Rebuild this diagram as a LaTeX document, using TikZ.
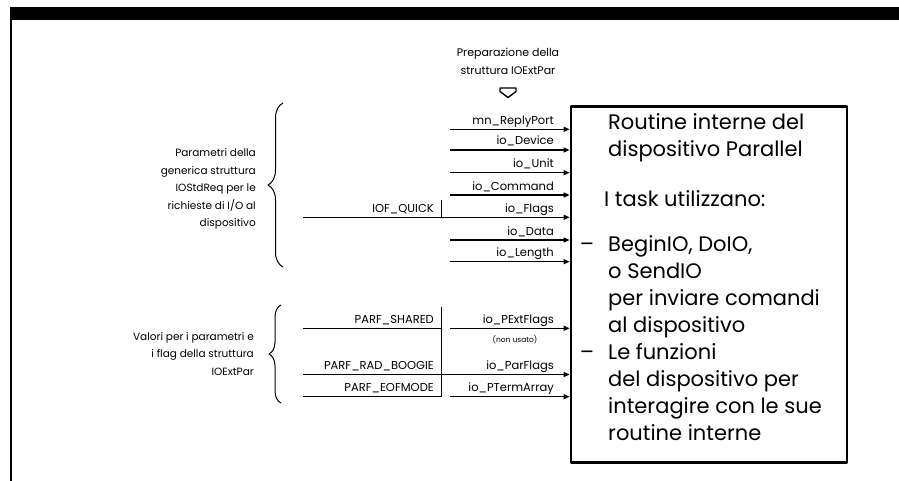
\documentclass[tikz,border=0pt]{standalone}
\usepackage{fontspec}
\setmainfont{Poppins}
\usetikzlibrary{arrows.meta,decorations.pathreplacing}

\begin{document}
\begin{tikzpicture}[x=1pt,y=-1pt,line join=round,
	freccia/.style={-{Triangle[length=6pt,width=5pt]},line width=1.3pt},
	linea/.style={line width=1.3pt},
	etic/.style={font=\fontsize{11.5}{13}\selectfont,inner sep=0pt},
	nota/.style={font=\fontsize{10.5}{17.5}\selectfont,align=right,inner sep=0pt},
	testo/.style={font=\fontsize{21}{27}\selectfont,inner sep=0pt,anchor=base west},
	graffa/.style={decorate,decoration={brace,amplitude=#1},line width=1pt}]
	\useasboundingbox (0,0) rectangle (899,481);
	% Cornice
	\fill (10,7) rectangle (899,20);
	\draw[line width=2pt] (11,7) -- (11,481);
	% Riquadro delle routine
	\node[draw,line width=2.8pt,minimum width=276pt,minimum height=356pt,inner sep=0pt] (box) at (709,284.7) {};
	\node[testo] (t1) at (608,130) {Routine interne del};
	\node[testo] (t2) at (608,157) {dispositivo Parallel};
	\node[testo] (t3) at (604,207) {I task utilizzano:};
	\foreach \riga [count=\i] in {{\llap{–\hspace{14pt}}BeginIO, DoIO,},o SendIO,per inviare comandi,al dispositivo,\llap{–\hspace{14pt}}Le funzioni,del dispositivo per,interagire con le sue,routine interne}
		\node[testo] (r\i) at (608,224+27*\i) {\riga};
	% Titolo e freccia vuota
	\node[align=center,font=\fontsize{11}{18}\selectfont] (prep) at (508,61) {Preparazione della\\struttura IOExtPar};
	\draw[line width=1.4pt] (500,88) -- (516,88) -- (516,91.5) -- (508,97.5) -- (500,91.5) -- cycle;
	% Frecce dei parametri
	\foreach \nome/\y [count=\i] in {mn\_ReplyPort/129.3,io\_Device/150,io\_Unit/172.7,io\_Command/195,io\_Flags/217.3,io\_Data/240,io\_Length/261.7,io\_PExtFlags/328.3,io\_ParFlags/374.5,io\_PTermArray/396.7}{
		\coordinate (p\i) at (450,\y);
		\draw[freccia] (p\i) -- (p\i -| box.west);
		\node[etic,anchor=base east] (e\i) at (554,\y-5) {\nome};
	}
	\node[font=\fontsize{7.5}{9}\selectfont] (nu) at (515,340) {(non usato)};
	% IOF_QUICK
	\coordinate (q) at (303,217.3);
	\coordinate (qb) at (441.7,200);
	\draw[linea] (q) -- (p5);
	\draw[linea] (qb) -- (qb |- p5);
	\node[etic,anchor=base east] (iof) at (434,212) {IOF\_QUICK};
	% Flag PARF
	\coordinate (s1) at (303,328.3);
	\coordinate (s2) at (303,374.5);
	\coordinate (s3) at (303,396.7);
	\coordinate (v) at (441.7,306.7);
	\draw[linea] (s1) -- (s1 -| v);
	\draw[linea] (s2) -- (p9);
	\draw[linea] (s3) -- (s3 -| v);
	\draw[linea] (v) -- (v |- s3);
	\node[etic,anchor=base east] (f1) at (434,323.3) {PARF\_SHARED};
	\node[etic,anchor=base east] (f2) at (434,369.5) {PARF\_RAD\_BOOGIE};
	\node[etic,anchor=base east] (f3) at (434,391.7) {PARF\_EOFMODE};
	% Graffe e note
	\draw[graffa=15pt] (283,267) -- (283,103);
	\draw[graffa=12pt] (281,403) -- (281,305);
	\node[nota,anchor=east] (n1) at (256,189) {Parametri della\\generica struttura\\IOStdReq per le\\richieste di I/O al\\dispositivo};
	\node[nota,anchor=east] (n2) at (254,354) {Valori per i parametri e\\i flag della struttura\\IOExtPar};
\end{tikzpicture}
\end{document}
